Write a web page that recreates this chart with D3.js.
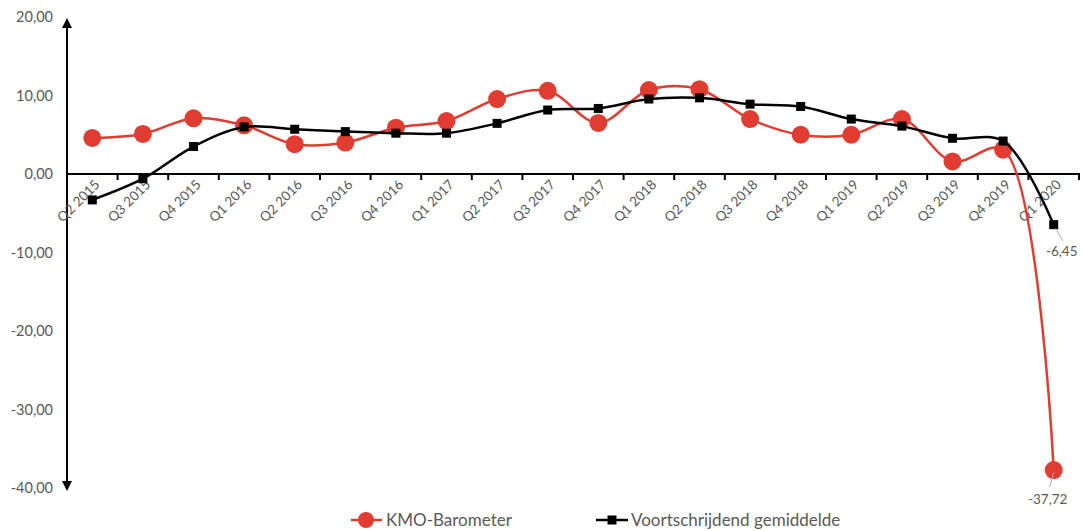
<!DOCTYPE html>
<html><head><meta charset="utf-8">
<script src="https://cdn.jsdelivr.net/npm/d3@7"></script>
<style>body{margin:0;background:#fff}svg{display:block}text{font-family:Lato,"Open Sans",sans-serif}</style>
</head><body>
<svg id="c" width="1083" height="531"></svg>
<script>
const categories = ["Q2 2015","Q3 2015","Q4 2015","Q1 2016","Q2 2016","Q3 2016","Q4 2016","Q1 2017","Q2 2017","Q3 2017","Q4 2017","Q1 2018","Q2 2018","Q3 2018","Q4 2018","Q1 2019","Q2 2019","Q3 2019","Q4 2019","Q1 2020"];
const kmoBarometer = [4.6,5.1,7.1,6.2,3.8,4.0,5.9,6.75,9.55,10.6,6.5,10.7,10.8,7.0,5.0,5.0,7.0,1.6,3.1,-37.72];
const voortschrijdend = [-3.3,-0.6,3.5,6.0,5.7,5.4,5.2,5.2,6.45,8.15,8.35,9.55,9.7,8.9,8.6,7.0,6.1,4.55,4.2,-6.45];
const yTicks = [20,10,0,-10,-20,-30,-40];
const seriesNames = ["KMO-Barometer","Voortschrijdend gemiddelde"];

const svg = d3.select("#c");
const red = "#e03c31", textCol = "#595959";
const x = d3.scaleBand().domain(categories).range([67,1079]);
const y = d3.scaleLinear().domain([-40,20]).range([488,17]);
const fmt = v => d3.format(".2f")(v).replace(".",",").replace("−","-");

// y tick labels
svg.append("g").selectAll("text").data(yTicks).join("text")
  .attr("x",53).attr("y",d=>y(d)).attr("dy","0.35em").attr("text-anchor","end")
  .attr("font-size",14.5).attr("fill",textCol).text(fmt);

// arrow markers
const defs = svg.append("defs");
defs.append("marker").attr("id","arr").attr("viewBox","0 0 10 10").attr("refX",5).attr("refY",5)
  .attr("markerWidth",5).attr("markerHeight",5).attr("orient","auto-start-reverse")
  .append("path").attr("d","M0,0L10,5L0,10z").attr("fill","#000");
svg.append("line").attr("x1",67).attr("x2",67).attr("y1",y(-40)-2).attr("y2",y(20)+6)
  .attr("stroke","#000").attr("stroke-width",2)
  .attr("marker-start","url(#arr)").attr("marker-end","url(#arr)");

// x axis
const xa = svg.append("g").attr("transform",`translate(0,${y(0)})`);
xa.append("line").attr("x1",67).attr("x2",1080).attr("stroke","#000").attr("stroke-width",2);
xa.selectAll("line.t").data(categories).join("line").attr("class","t")
  .attr("x1",d=>x(d)+x.bandwidth()).attr("x2",d=>x(d)+x.bandwidth()).attr("y1",0).attr("y2",6)
  .attr("stroke","#000").attr("stroke-width",2);
xa.selectAll("text").data(categories).join("text")
  .attr("transform",d=>`translate(${x(d)+x.bandwidth()/2+5},${8}) rotate(-45)`)
  .attr("text-anchor","end").attr("dy","0.35em").attr("font-size",13.5).attr("fill",textCol).text(d=>d);

const cx = (d,i)=>x(categories[i])+x.bandwidth()/2;
const line = d3.line().x(cx).y(d=>y(d)).curve(d3.curveCatmullRom.alpha(0.5));

svg.append("path").datum(kmoBarometer).attr("d",line).attr("fill","none").attr("stroke",red).attr("stroke-width",2.5);
svg.append("g").selectAll("circle").data(kmoBarometer).join("circle")
  .attr("cx",cx).attr("cy",d=>y(d)).attr("r",9).attr("fill",red);

svg.append("path").datum(voortschrijdend).attr("d",line).attr("fill","none").attr("stroke","#000").attr("stroke-width",2.5);
svg.append("g").selectAll("rect").data(voortschrijdend).join("rect")
  .attr("x",(d,i)=>cx(d,i)-4.5).attr("y",d=>y(d)-4.5).attr("width",9).attr("height",9).attr("fill","#000");

// data labels for last points
const li = categories.length-1, lx = cx(0,li);
svg.append("line").attr("x1",lx+2).attr("y1",y(voortschrijdend[li])+4).attr("x2",lx+9).attr("y2",y(voortschrijdend[li])+16).attr("stroke","#aaa").attr("stroke-width",1);
svg.append("text").attr("x",lx+8).attr("y",y(voortschrijdend[li])+31).attr("text-anchor","middle").attr("font-size",13.5).attr("fill",textCol).text(fmt(voortschrijdend[li]));
svg.append("line").attr("x1",lx).attr("y1",y(kmoBarometer[li])+2).attr("x2",lx-4).attr("y2",y(kmoBarometer[li])+17).attr("stroke","#aaa").attr("stroke-width",1);
svg.append("text").attr("x",lx-6).attr("y",y(kmoBarometer[li])+34).attr("text-anchor","middle").attr("font-size",13.5).attr("fill",textCol).text(fmt(kmoBarometer[li]));

// legend
const lg = svg.append("g").attr("transform","translate(0,520)");
lg.append("line").attr("x1",351).attr("x2",382).attr("stroke",red).attr("stroke-width",2.5);
lg.append("circle").attr("cx",366).attr("r",8).attr("fill",red);
lg.append("text").attr("x",386).attr("dy","0.35em").attr("font-size",17).attr("fill",textCol).text(seriesNames[0]);
lg.append("line").attr("x1",596).attr("x2",628).attr("stroke","#000").attr("stroke-width",2.5);
lg.append("rect").attr("x",607.5).attr("y",-4.5).attr("width",9).attr("height",9).attr("fill","#000");
lg.append("text").attr("x",631).attr("dy","0.35em").attr("font-size",17).attr("fill",textCol).text(seriesNames[1]);
</script>
</body></html>
